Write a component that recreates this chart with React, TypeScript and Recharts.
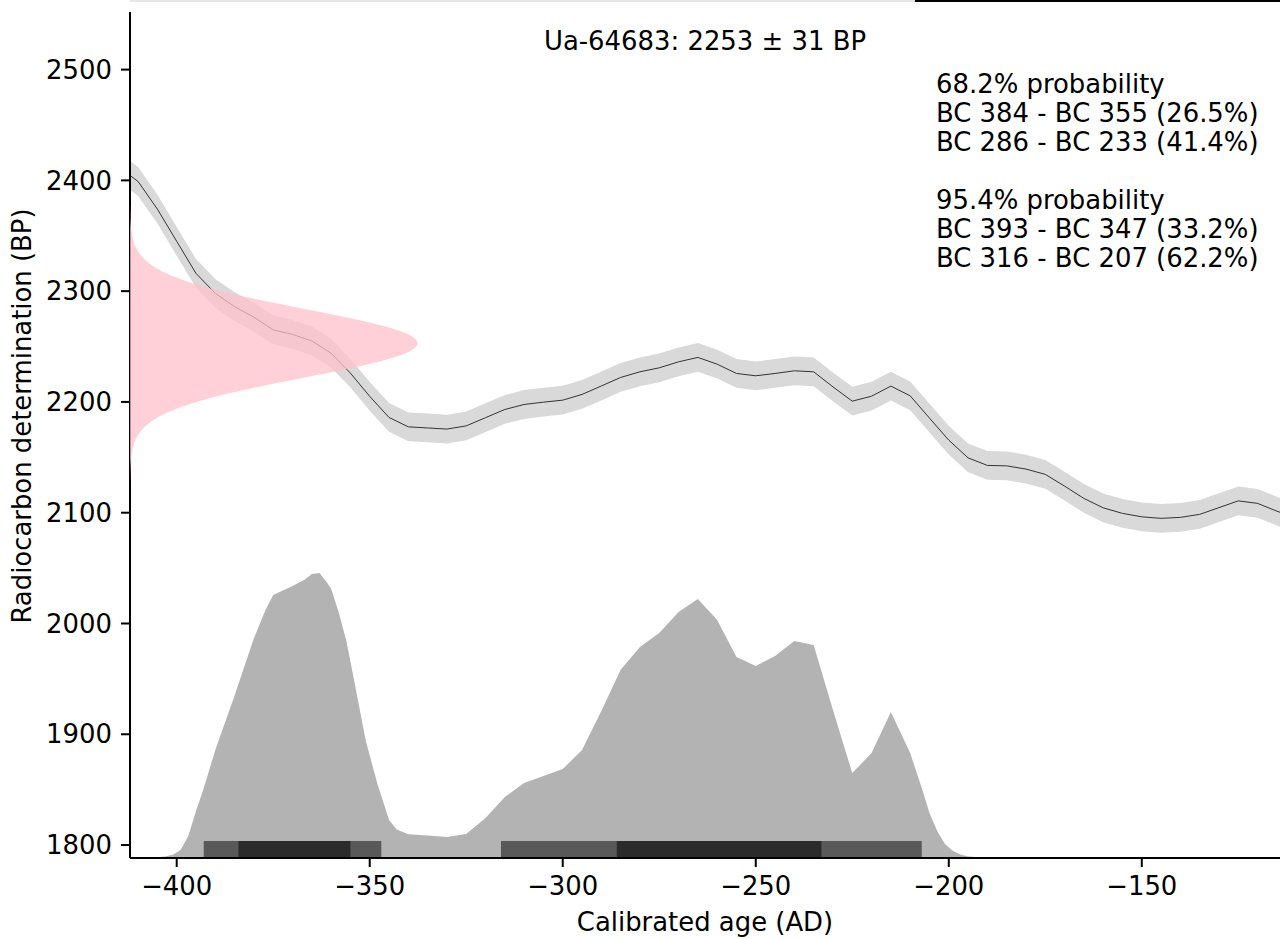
import React from "react";
import { ComposedChart, Area, Line, XAxis, YAxis, ReferenceArea } from "recharts";

const W = 1280;
const H = 939;

// calibration curve, 5-year steps (BP), band is +/- 1 sigma
const curveYears = [
  -415, -410, -405, -400, -395, -390, -385, -380, -375, -370, -365, -360, -355, -350, -345, -340,
  -335, -330, -325, -320, -315, -310, -305, -300, -295, -290, -285, -280, -275, -270, -265, -260,
  -255, -250, -245, -240, -235, -230, -225, -220, -215, -210, -205, -200, -195, -190, -185, -180,
  -175, -170, -165, -160, -155, -150, -145, -140, -135, -130, -125, -120, -115, -110,
];
const curveBP = [
  2412, 2399, 2374, 2345, 2316, 2298, 2286, 2276.5, 2265, 2261, 2255, 2244, 2226, 2205, 2186, 2177.5,
  2176.5, 2175.5, 2178.4, 2185.8, 2193.2, 2197.7, 2199.8, 2201.6, 2206.8, 2214.4, 2222.1, 2227.2, 2230.8, 2236.2, 2240.2, 2234.1,
  2225.7, 2223.6, 2225.7, 2228.1, 2227.2, 2213.6, 2200.7, 2205.2, 2214.3, 2205.5, 2185.4, 2165.5, 2149.5, 2142.7, 2142.3, 2139.4,
  2134.6, 2124, 2112.9, 2104.4, 2099.4, 2096.3, 2094.9, 2095.8, 2098.5, 2104.6, 2110.7, 2108.4, 2101.4, 2095,
];
const curveSigma = 13;

// calibrated probability (relative to the highest peak)
const probYears = [
  -412, -406, -403, -401, -399, -397, -395, -393, -390, -385, -380, -377, -375, -370, -367, -365,
  -363, -361, -360, -358, -356, -354, -352, -351, -348, -345, -343, -340, -335, -330, -325, -320,
  -315, -310, -305, -300, -295, -290, -285, -280, -275, -270, -265, -260, -255, -250, -245, -240,
  -235, -230, -225, -220, -215, -210, -207, -205, -203, -201, -199, -197, -195, -190, -185,
];
const probDensity = [
  0, 0.001, 0.005, 0.011, 0.028, 0.077, 0.165, 0.245, 0.379, 0.57, 0.771, 0.87, 0.923, 0.954, 0.975, 0.996,
  1.0, 0.965, 0.945, 0.86, 0.759, 0.62, 0.48, 0.41, 0.26, 0.133, 0.1, 0.083, 0.079, 0.074, 0.084, 0.14,
  0.214, 0.263, 0.288, 0.312, 0.379, 0.516, 0.66, 0.74, 0.789, 0.863, 0.909, 0.835, 0.705, 0.674, 0.709, 0.761,
  0.747, 0.519, 0.298, 0.368, 0.512, 0.368, 0.246, 0.158, 0.095, 0.049, 0.025, 0.012, 0.005, 0.001, 0,
];

// the measurement itself
const labCode = "Ua-64683";
const measuredBP = 2253;
const measuredSigma = 31;

// calibrated ranges [from, to] in years AD and their share
const ranges68 = [[-384, -355], [-286, -233]];
const shares68 = [26.5, 41.4];
const ranges95 = [[-393, -347], [-316, -207]];
const shares95 = [33.2, 62.2];

const xTicks = [-400, -350, -300, -250, -200, -150];
const yTicks = [1800, 1900, 2000, 2100, 2200, 2300, 2400, 2500];

const xDomain = [-412.1, -114.2];
const yDomain = [1788.3, 2552];
const probDomain = [0, 2.968];
const pinkDomain = [0, 4];
const rangeBarTop = 1803.6;

const curveData = curveYears.map((year, i) => ({
  year,
  bp: curveBP[i],
  band: [curveBP[i] - curveSigma, curveBP[i] + curveSigma],
}));
const probData = probYears.map((year, i) => ({ year, p: probDensity[i] }));

// normal distribution of the measured age, plotted along the BP axis
const pinkData: { bp: number; dens: number }[] = [];
for (let bp = measuredBP - 4 * measuredSigma; bp <= measuredBP + 4 * measuredSigma; bp += 1) {
  const z = (bp - measuredBP) / measuredSigma;
  pinkData.push({ bp, dens: Math.exp(-0.5 * z * z) });
}

const fmtRange = (r: number[], share: number) => `BC ${-r[0]} - BC ${-r[1]} (${share}%)`;
const infoLines = [
  "68.2% probability",
  ...ranges68.map((r, i) => fmtRange(r, shares68[i])),
  "",
  "95.4% probability",
  ...ranges95.map((r, i) => fmtRange(r, shares95[i])),
];

const font = "DejaVu Sans";
const fontSize = 25.9;
const tickStyle = { fill: "#000", fontSize, fontFamily: font };
const minus = (v: number) => String(v).replace("-", "\u2212");

export default function App() {
  return (
    <div
      style={{
        position: "absolute",
        left: 0,
        top: 0,
        width: W,
        height: H,
        background: "#fff",
        overflow: "hidden",
      }}
    >
      <div style={{ position: "absolute", left: 0, top: 0 }}>
        <ComposedChart width={W} height={H} margin={{ top: 12, right: 0, bottom: 0, left: 0 }}>
          <XAxis
            type="number"
            dataKey="year"
            domain={xDomain}
            ticks={xTicks}
            allowDataOverflow
            height={81}
            stroke="#000"
            axisLine={{ stroke: "#000", strokeWidth: 2 }}
            tickLine={{ stroke: "#000", strokeWidth: 2 }}
            tickSize={9}
            tickMargin={10}
            tick={tickStyle}
            tickFormatter={minus}
          />
          <YAxis
            yAxisId="bp"
            type="number"
            domain={yDomain}
            ticks={yTicks}
            allowDataOverflow
            width={130}
            stroke="#000"
            axisLine={{ stroke: "#000", strokeWidth: 2 }}
            tickLine={{ stroke: "#000", strokeWidth: 2 }}
            tickSize={9}
            tickMargin={9}
            tick={tickStyle}
          />
          <YAxis yAxisId="prob" type="number" hide domain={probDomain} allowDataOverflow />
          <Area
            yAxisId="bp"
            data={curveData}
            dataKey="band"
            type="linear"
            stroke="none"
            fill="#d9d9d9"
            fillOpacity={1}
            isAnimationActive={false}
          />
          <Line
            yAxisId="bp"
            data={curveData}
            dataKey="bp"
            type="linear"
            stroke="#333"
            strokeWidth={1}
            dot={false}
            isAnimationActive={false}
          />
          <Area
            yAxisId="prob"
            data={probData}
            dataKey="p"
            type="linear"
            baseValue={0}
            stroke="none"
            fill="#b3b3b3"
            fillOpacity={1}
            isAnimationActive={false}
          />
          {ranges95.map((r, i) => (
            <ReferenceArea
              key={`r95-${i}`}
              yAxisId="bp"
              x1={r[0]}
              x2={r[1]}
              y1={yDomain[0]}
              y2={rangeBarTop}
              fill="#595959"
              fillOpacity={1}
              stroke="none"
            />
          ))}
          {ranges68.map((r, i) => (
            <ReferenceArea
              key={`r68-${i}`}
              yAxisId="bp"
              x1={r[0]}
              x2={r[1]}
              y1={yDomain[0]}
              y2={rangeBarTop}
              fill="#2b2b2b"
              fillOpacity={1}
              stroke="none"
            />
          ))}
        </ComposedChart>
      </div>

      <div style={{ position: "absolute", left: 0, top: 0 }}>
        <ComposedChart
          layout="vertical"
          width={W}
          height={H}
          margin={{ top: 12, right: 0, bottom: 81, left: 130 }}
        >
          <XAxis type="number" hide domain={pinkDomain} allowDataOverflow />
          <YAxis type="number" dataKey="bp" hide reversed domain={yDomain} allowDataOverflow />
          <Area
            data={pinkData}
            dataKey="dens"
            type="linear"
            baseValue={0}
            stroke="none"
            fill="#ffc0cb"
            fillOpacity={0.75}
            isAnimationActive={false}
          />
        </ComposedChart>
      </div>

      <svg
        width={W}
        height={H}
        style={{ position: "absolute", left: 0, top: 0, pointerEvents: "none" }}
        fontFamily={font}
        fontSize={fontSize}
      >
        <line x1={130} y1={1} x2={915} y2={1} stroke="#e6e6e6" strokeWidth={2} />
        <line x1={915} y1={1} x2={1280} y2={1} stroke="#000" strokeWidth={2} />
        <text x={705} y={50} textAnchor="middle" fill="#000">
          {`${labCode}: ${measuredBP} \u00b1 ${measuredSigma} BP`}
        </text>
        {infoLines.map((t, i) => (
          <text key={i} x={936} y={93 + i * 29} fill="#000">
            {t}
          </text>
        ))}
        <text x={705} y={931} textAnchor="middle" fill="#000">
          Calibrated age (AD)
        </text>
        <text x={31} y={416} textAnchor="middle" fill="#000" transform="rotate(-90 31 416)">
          Radiocarbon determination (BP)
        </text>
      </svg>
    </div>
  );
}
